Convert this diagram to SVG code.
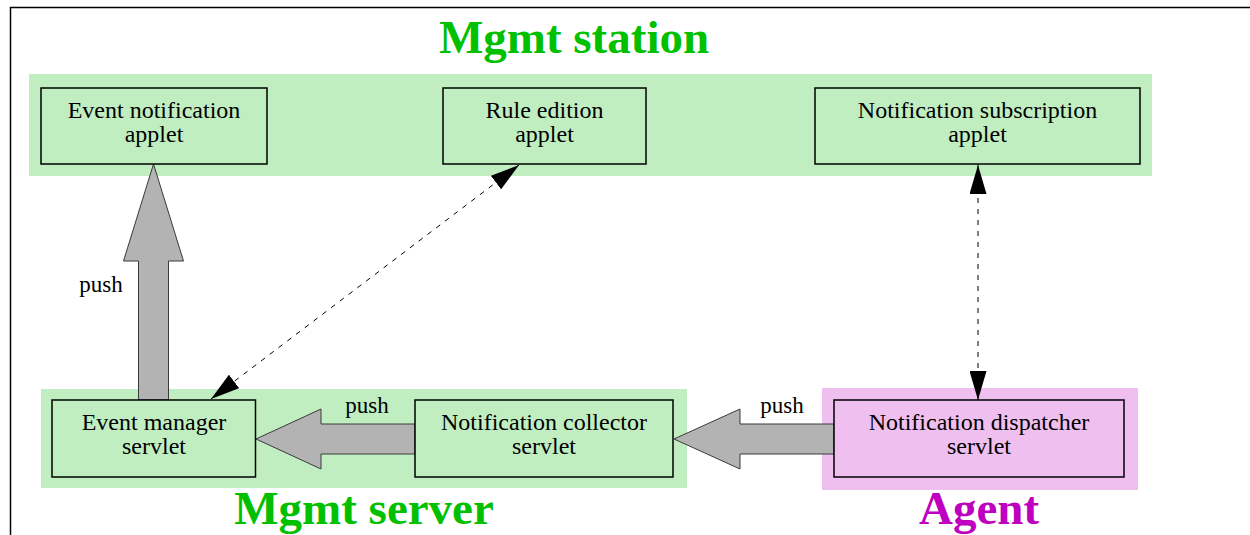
<svg xmlns="http://www.w3.org/2000/svg" width="1250" height="535" viewBox="0 0 1250 535">
<defs>
<style>
.frame{fill:none;stroke:#000;stroke-width:1.5}
.panel-g{fill:#c0eec0}
.panel-p{fill:#efbfef}
.box{stroke:#000;stroke-width:1.5}
.box-g{fill:#c0eec0}
.box-p{fill:#efbfef}
.lbl{font-family:"Liberation Serif","Times New Roman",serif;font-size:24px;fill:#000;text-anchor:middle}
.push{font-family:"Liberation Serif","Times New Roman",serif;font-size:23px;fill:#000;text-anchor:middle}
.title{font-family:"Liberation Serif","Times New Roman",serif;font-size:47px;font-weight:bold;text-anchor:middle}
.tg{fill:#00c000}
.tm{fill:#c000c0}
.block{fill:#b3b3b3;stroke:#3a3a3a;stroke-width:1}
.dash{fill:none;stroke:#000;stroke-width:1;stroke-dasharray:5 6}
</style>
<marker id="ah" viewBox="0 0 29 17" refX="29" refY="8.5" markerWidth="29" markerHeight="17" markerUnits="userSpaceOnUse" orient="auto-start-reverse">
<path d="M0,0 L29,8.5 L0,17 Z" fill="#000"/>
</marker>
</defs>
<rect class="frame" x="10.5" y="7.5" width="1300" height="600"/>

<g id="group-station">
<rect class="panel-g" x="29" y="74" width="1123" height="102"/>
<text class="title tg" x="574" y="53">Mgmt station</text>
</g>
<g id="group-server">
<rect class="panel-g" x="41" y="389" width="646" height="99"/>
<text class="title tg" x="364" y="524">Mgmt server</text>
</g>
<g id="group-agent">
<rect class="panel-p" x="822" y="388" width="316" height="102"/>
<text class="title tm" x="979" y="524">Agent</text>
</g>

<g id="connectors">
<polygon class="block" points="138.5,400 138.5,261 123.5,261 153.5,164 183.5,261 168.5,261 168.5,400"/>
<polygon class="block" points="415,424 321,424 321,409 256,439 321,469 321,454 415,454"/>
<polygon class="block" points="834,424 740,424 740,409 674,439 740,469 740,454 834,454"/>
<line class="dash" x1="519" y1="165" x2="211" y2="399" marker-start="url(#ah)" marker-end="url(#ah)"/>
<line class="dash" x1="978" y1="165" x2="978" y2="400" marker-start="url(#ah)" marker-end="url(#ah)"/>
<text class="push" x="101" y="292">push</text>
<text class="push" x="367" y="413">push</text>
<text class="push" x="782" y="413">push</text>
</g>

<g id="node-event-notification">
<rect class="box box-g" x="41" y="88" width="226" height="76"/>
<text class="lbl" x="154" y="118">Event notification</text>
<text class="lbl" x="154" y="142">applet</text>
</g>
<g id="node-rule-edition">
<rect class="box box-g" x="443" y="88" width="203" height="76"/>
<text class="lbl" x="544.5" y="118">Rule edition</text>
<text class="lbl" x="544.5" y="142">applet</text>
</g>
<g id="node-notification-subscription">
<rect class="box box-g" x="815" y="88" width="325" height="76"/>
<text class="lbl" x="977.5" y="118">Notification subscription</text>
<text class="lbl" x="977.5" y="142">applet</text>
</g>
<g id="node-event-manager">
<rect class="box box-g" x="52" y="400" width="203.5" height="77"/>
<text class="lbl" x="154" y="430">Event manager</text>
<text class="lbl" x="154" y="454">servlet</text>
</g>
<g id="node-notification-collector">
<rect class="box box-g" x="415" y="400" width="258" height="77"/>
<text class="lbl" x="544" y="430">Notification collector</text>
<text class="lbl" x="544" y="454">servlet</text>
</g>
<g id="node-notification-dispatcher">
<rect class="box box-p" x="834" y="400" width="290" height="77"/>
<text class="lbl" x="979" y="430">Notification dispatcher</text>
<text class="lbl" x="979" y="454">servlet</text>
</g>
</svg>
